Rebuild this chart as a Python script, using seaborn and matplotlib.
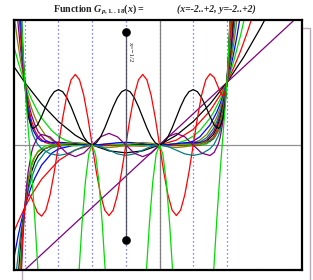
import matplotlib
matplotlib.use("Agg")
import matplotlib.pyplot as plt
import seaborn as sns
from matplotlib.patches import Rectangle

# ---------------- data ----------------
CURVE_COLORS = ["#800080", "#000000", "#ff0000", "#00dd00", "#0000ff", "#808000", "#008080"]

X_P01 = [-2.2, 2.2]
Y_P01 = [-2.2, 2.2]

X_P02 = [-2.16, -2.0, -1.75, -1.5, -1.25, -1.0, -0.75, -0.5, -0.25, 0.0, 0.25, 0.5, 0.75, 1.0, 1.25, 1.5, 1.6]
Y_P02 = [1.253, 1.0, 0.656, 0.375, 0.156, 0.0, -0.094, -0.125, -0.094, 0.0, 0.156, 0.375, 0.656, 1.0, 1.406, 1.875, 2.08]

X_P03 = [-2.16, -2.1, -2.0, -1.9, -1.75, -1.5, -1.25, -1.0, -0.75, -0.5, -0.25, 0.0, 0.25, 0.5, 0.75, 0.9, 1.0, 1.1, 1.2, 1.3, 1.4]
Y_P03 = [-1.386, -1.232, -1.0, -0.798, -0.547, -0.25, -0.078, 0.0, 0.016, 0.0, -0.016, 0.0, 0.078, 0.25, 0.547, 0.798, 1.0, 1.232, 1.496, 1.794, 2.128]

X_P04 = [-2.16, -2.1, -2.05, -2.0, -1.9, -1.8, -1.75, -1.6, -1.5, -1.4, -1.25, -1.0, -0.75, -0.5, -0.25, 0.0, 0.25, 0.4, 0.5, 0.6, 0.75, 0.8, 0.9, 1.0, 1.05, 1.1, 1.2, 1.25, 1.3]
Y_P04 = [1.570, 1.334, 1.158, 1.0, 0.731, 0.518, 0.431, 0.230, 0.141, 0.078, 0.024, 0.0, 0.009, 0.016, 0.009, 0.0, 0.024, 0.078, 0.141, 0.230, 0.431, 0.518, 0.731, 1.0, 1.158, 1.334, 1.742, 1.978, 2.235]

X_P05 = [-2.16, -2.15, -2.1, -2.05, -2.0, -1.95, -1.9, -1.85, -1.75, -1.6, -1.5, -1.25, -1.0, -0.75, -0.5, -0.25, 0.0, 0.25, 0.4, 0.5, 0.6, 0.75, 0.85, 0.9, 0.95, 1.0, 1.05, 1.1, 1.15, 1.2]
Y_P05 = [-1.807, -1.745, -1.461, -1.214, -1.0, -0.816, -0.659, -0.526, -0.321, -0.132, -0.0625, 0.001, 0.0, -0.005, 0.0, 0.005, 0.0, -0.001, 0.023, 0.0625, 0.132, 0.321, 0.526, 0.659, 0.816, 1.0, 1.214, 1.461, 1.745, 2.070]

X_TAIL = [-2.15, -2.125, -2.1, -2.075, -2.05, -2.025, -2.0, -1.975, -1.95, -1.9, -1.85, -1.8, -1.7, -1.6, -1.5,
          -1.25, -1.0, -0.75, -0.5, -0.25, 0.0, 0.25,
          0.5, 0.6, 0.7, 0.8, 0.85, 0.9, 0.95, 0.975, 1.0, 1.025, 1.05, 1.075, 1.1, 1.125, 1.15]
Y_P06 = [2.011, 1.802, 1.611, 1.436, 1.276, 1.131, 1.0, 0.881, 0.774, 0.590, 0.444, 0.328, 0.168, 0.078, 0.031,
         0.0, 0.0, 0.0, 0.0, 0.0, 0.0, 0.0,
         0.031, 0.078, 0.168, 0.328, 0.444, 0.590, 0.774, 0.881, 1.0, 1.131, 1.276, 1.436, 1.611, 1.802, 2.011]
Y_P07 = [-2.313, -2.027, -1.772, -1.543, -1.340, -1.160, -1.0, -0.859, -0.735, -0.531, -0.377, -0.262, -0.118, -0.047, -0.016,
         0.0, 0.0, 0.0, 0.0, 0.0, 0.0, 0.0,
         0.016, 0.047, 0.118, 0.262, 0.377, 0.531, 0.735, 0.859, 1.0, 1.160, 1.340, 1.543, 1.772, 2.027, 2.313]
Y_P08 = [2.660, 2.281, 1.949, 1.659, 1.407, 1.189, 1.0, 0.838, 0.698, 0.478, 0.321, 0.210, 0.082, 0.028, 0.008,
         0.0, 0.0, 0.0, 0.0, 0.0, 0.0, 0.0,
         0.008, 0.028, 0.082, 0.210, 0.321, 0.478, 0.698, 0.838, 1.0, 1.189, 1.407, 1.659, 1.949, 2.281, 2.660]
Y_P09 = [-3.059, -2.566, -2.144, -1.783, -1.477, -1.218, -1.0, -0.817, -0.663, -0.430, -0.272, -0.168, -0.058, -0.017, -0.004,
         0.0, 0.0, 0.0, 0.0, 0.0, 0.0, 0.0,
         0.004, 0.017, 0.058, 0.168, 0.272, 0.430, 0.663, 0.817, 1.0, 1.218, 1.477, 1.783, 2.144, 2.566, 3.059]
Y_P10 = [3.518, 2.887, 2.358, 1.917, 1.551, 1.249, 1.0, 0.796, 0.630, 0.387, 0.232, 0.134, 0.040, 0.010, 0.002,
         -0.008, 0.0, -0.008, -0.015, -0.008, 0.0, -0.008,
         -0.013, -0.004, 0.028, 0.124, 0.226, 0.385, 0.629, 0.796, 1.0, 1.249, 1.551, 1.917, 2.358, 2.887, 3.518]
Y_P11 = [-4.046, -3.247, -2.594, -2.061, -1.629, -1.280, -1.0, -0.776, -0.595, -0.342, -0.187, -0.096, -0.017, 0.001, -0.001,
         -0.012, 0.0, 0.012, 0.0, -0.012, 0.0, 0.012,
         0.001, 0.006, 0.017, 0.096, 0.187, 0.342, 0.595, 0.776, 1.0, 1.280, 1.629, 2.061, 2.594, 3.247, 4.046]

X_MID = [-2.1, -2.075, -2.05, -2.025, -2.0, -1.975, -1.95, -1.9, -1.875, -1.8125, -1.75, -1.625, -1.5, -1.375,
         -1.25, -1.125, -1.0, -0.875, -0.75, -0.625, -0.5, -0.375, -0.25, -0.125, 0.0, 0.125, 0.25, 0.375,
         0.5, 0.625, 0.75, 0.8125, 0.875, 0.9, 0.95, 0.975, 1.0, 1.025, 1.05, 1.075]
Y_P12 = [2.857, 2.218, 1.711, 1.312, 1.0, 0.757, 0.570, 0.318, 0.236, 0.115, 0.063, 0.042, 0.043, 0.036,
         0.021, 0.006, 0.0, 0.006, 0.021, 0.036, 0.042, 0.036, 0.021, 0.006, 0.0, 0.006, 0.021, 0.036,
         0.043, 0.042, 0.063, 0.115, 0.236, 0.318, 0.570, 0.757, 1.0, 1.312, 1.711, 2.218]
Y_P13 = [-3.11, -2.36, -1.783, -1.339, -1.0, -0.744, -0.553, -0.306, -0.230, -0.120, -0.072, -0.032, 0.0, 0.0285,
         0.0403, 0.0285, 0.0, -0.0285, -0.0403, -0.0285, 0.0, 0.0285, 0.0403, 0.0285, 0.0, -0.0285, -0.0403, -0.0285,
         0.0, 0.032, 0.072, 0.120, 0.230, 0.306, 0.553, 0.744, 1.0, 1.339, 1.783, 2.36]
Y_P14 = [3.44, 2.55, 1.882, 1.378, 1.0, 0.719, 0.509, 0.238, 0.152, 0.016, -0.060, -0.140, -0.167, -0.142,
         -0.083, -0.024, 0.0, -0.024, -0.083, -0.142, -0.167, -0.142, -0.083, -0.024, 0.0, -0.024, -0.083, -0.142,
         -0.167, -0.140, -0.060, 0.016, 0.152, 0.238, 0.509, 0.719, 1.0, 1.378, 1.882, 2.55]
Y_P15 = [-3.91, -2.84, -2.04, -1.442, -1.0, -0.672, -0.430, -0.120, -0.023, 0.117, 0.168, 0.130, 0.0, -0.131,
         -0.186, -0.131, 0.0, 0.131, 0.186, 0.131, 0.0, -0.131, -0.186, -0.131, 0.0, 0.131, 0.186, 0.131,
         0.0, -0.130, -0.168, -0.117, 0.023, 0.120, 0.430, 0.672, 1.0, 1.442, 2.04, 2.84]

X_FINE = [-2.1, -2.075, -2.05, -2.025, -2.0, -1.975, -1.95, -1.9375, -1.9, -1.875, -1.8125, -1.75, -1.6875, -1.625,
          -1.5625, -1.5, -1.4375, -1.375, -1.3125, -1.25, -1.1875, -1.125, -1.0625, -1.0, -0.9375, -0.875, -0.8125,
          -0.75, -0.6875, -0.625, -0.5625, -0.5, -0.4375, -0.375, -0.3125, -0.25, -0.1875, -0.125, -0.0625, 0.0,
          0.0625, 0.125, 0.1875, 0.25, 0.3125, 0.375, 0.4375, 0.5, 0.5625, 0.625, 0.6875, 0.75, 0.8125, 0.875,
          0.9, 0.9375, 0.95, 0.975, 1.0, 1.025, 1.05, 1.075]
Y_P16 = [4.26, 3.01, 2.10, 1.454, 1.0, 0.689, 0.485, 0.414, 0.291, 0.265, 0.318, 0.457, 0.616, 0.757, 0.853, 0.886,
         0.853, 0.757, 0.613, 0.443, 0.274, 0.130, 0.034, 0.0,
         0.034, 0.130, 0.274, 0.443, 0.613, 0.757, 0.853, 0.886,
         0.853, 0.757, 0.613, 0.443, 0.274, 0.130, 0.034, 0.0,
         0.034, 0.130, 0.274, 0.443, 0.613, 0.757, 0.853, 0.886,
         0.853, 0.757, 0.616, 0.457, 0.318, 0.265, 0.291, 0.414, 0.485, 0.689, 1.0, 1.454, 2.10, 3.01]
Y_P17 = [-3.93, -2.67, -1.834, -1.308, -1.0, -0.844, -0.789, -0.788, -0.848, -0.916, -1.079, -1.139, -1.045, -0.799, -0.432, 0.0,
         0.432, 0.798, 1.043, 1.129, 1.043, 0.798, 0.432, 0.0,
         -0.432, -0.798, -1.043, -1.129, -1.043, -0.798, -0.432, 0.0,
         0.432, 0.798, 1.043, 1.129, 1.043, 0.798, 0.432, 0.0,
         -0.432, -0.798, -1.043, -1.129, -1.043, -0.798, -0.432, 0.0,
         0.432, 0.799, 1.046, 1.139, 1.079, 0.916, 0.848, 0.788, 0.789, 0.844, 1.0, 1.308, 1.834, 2.67]

X_P18 = [-2.1, -2.05, -2.04, -2.025, -2.0, -1.975, -1.95, -1.9, -1.85, -1.8, -1.75, -1.5, -1.25, -1.2, -1.15, -1.1,
         -1.05, -1.0, -0.95, -0.9, -0.85, -0.8, -0.75, -0.5, -0.25, -0.2, -0.15, -0.1, -0.05, 0.0, 0.05, 0.1, 0.15,
         0.2, 0.25, 0.5, 0.75, 0.8, 0.85, 0.9, 0.95, 0.975, 1.0, 1.025, 1.04, 1.05, 1.1]
Y_P18 = [4.47, 2.14, 1.85, 1.48, 1.0, 0.61, 0.269, -0.416, -1.195, -2.09, -3.05, -6.1, -3.05, -2.11, -1.258, -0.583,
         -0.149, 0.0, -0.149, -0.583, -1.258, -2.11, -3.05, -6.1, -3.05, -2.11, -1.258, -0.583, -0.149, 0.0, -0.149,
         -0.583, -1.258, -2.11, -3.05, -6.1, -3.05, -2.09, -1.195, -0.416, 0.269, 0.61, 1.0, 1.48, 1.85, 2.14, 4.47]

GRID_X = [-2.0, -1.5, -1.0, -0.5, 0.0, 0.5, 1.0]
MARK_X = [-0.5, -0.5]
MARK_Y = [1.81, -1.52]

TITLE_LEFT = r"Function $G_{p,1..18}(x)$ ="
TITLE_RIGHT = "(x=-2..+2, y=-2..+2)"
MARK_LABEL = "x=\u22121/2"

CURVES = [(X_P01, Y_P01), (X_P02, Y_P02), (X_P03, Y_P03), (X_P04, Y_P04), (X_P05, Y_P05),
          (X_TAIL, Y_P06), (X_TAIL, Y_P07), (X_TAIL, Y_P08), (X_TAIL, Y_P09), (X_TAIL, Y_P10), (X_TAIL, Y_P11),
          (X_MID, Y_P12), (X_MID, Y_P13), (X_MID, Y_P14), (X_MID, Y_P15),
          (X_FINE, Y_P16), (X_FINE, Y_P17), (X_P18, Y_P18)]

# ---------------- drawing ----------------
sns.set_style("white")
plt.rcParams["font.family"] = ["Liberation Serif", "DejaVu Serif"]
plt.rcParams["mathtext.fontset"] = "custom"
plt.rcParams["mathtext.rm"] = "Liberation Serif:bold"
plt.rcParams["mathtext.it"] = "Liberation Serif:italic:bold"
plt.rcParams["mathtext.bf"] = "Liberation Serif:bold"

fig = plt.figure(figsize=(3.13, 2.80), dpi=100)
fig.patch.set_facecolor("white")

# drop shadow of the frame (only its right edge stays visible)
shadow = Rectangle((22 / 313, -6 / 280), 288 / 313, 258 / 280, transform=fig.transFigure,
                   facecolor="none", edgecolor="#b8a8b8", lw=1.0)
shadow.set_zorder(-10)
fig.add_artist(shadow)

ax = fig.add_axes([14 / 313, 10 / 280, 288 / 313, 250 / 280])
ax.set_zorder(1)
ax.set_facecolor("white")
ax.set_xlim(-2.16, 2.115)
ax.set_ylim(-2.0, 2.0)

for gx in GRID_X:
    ax.axvline(gx, color="#5a5aff", lw=0.9, ls=(0, (1, 2.2)), zorder=1)
ax.axhline(-1.985, color="#ff88ff", lw=0.8, ls=(0, (1, 2.2)), zorder=1)
ax.axhline(0, color="#909090", lw=0.9, zorder=1.5)
ax.axvline(0, color="#808080", lw=0.9, zorder=1.5)

for i, (xs, ys) in enumerate(CURVES):
    sns.lineplot(x=xs, y=ys, sort=False, estimator=None, color=CURVE_COLORS[i % 7],
                 linewidth=0.9, ax=ax, zorder=2 + i * 0.01)

sns.lineplot(x=MARK_X, y=MARK_Y, sort=False, estimator=None, color="#505060", linewidth=0.9, ax=ax, zorder=3)
ax.plot(MARK_X, MARK_Y, ls="none", marker="o", ms=5.2, color="black", zorder=4)
ax.text(-0.43, 1.49, MARK_LABEL, rotation=-90, fontsize=5, ha="center", va="center",
        color="#202020", zorder=4)

ax.set_xticks([])
ax.set_yticks([])
for sp in ax.spines.values():
    sp.set_visible(True)
    sp.set_color("black")
    sp.set_linewidth(1.6)
ax.set_xlabel("")
ax.set_ylabel("")

fig.text(99 / 313, 1 - 9.5 / 280, TITLE_LEFT, fontsize=7.2, fontweight="bold", ha="center", va="center")
fig.text(216 / 313, 1 - 9.5 / 280, TITLE_RIGHT, fontsize=7.0, fontweight="bold", style="italic",
         ha="center", va="center")

fig.savefig("out.png", dpi=100, facecolor="white")
